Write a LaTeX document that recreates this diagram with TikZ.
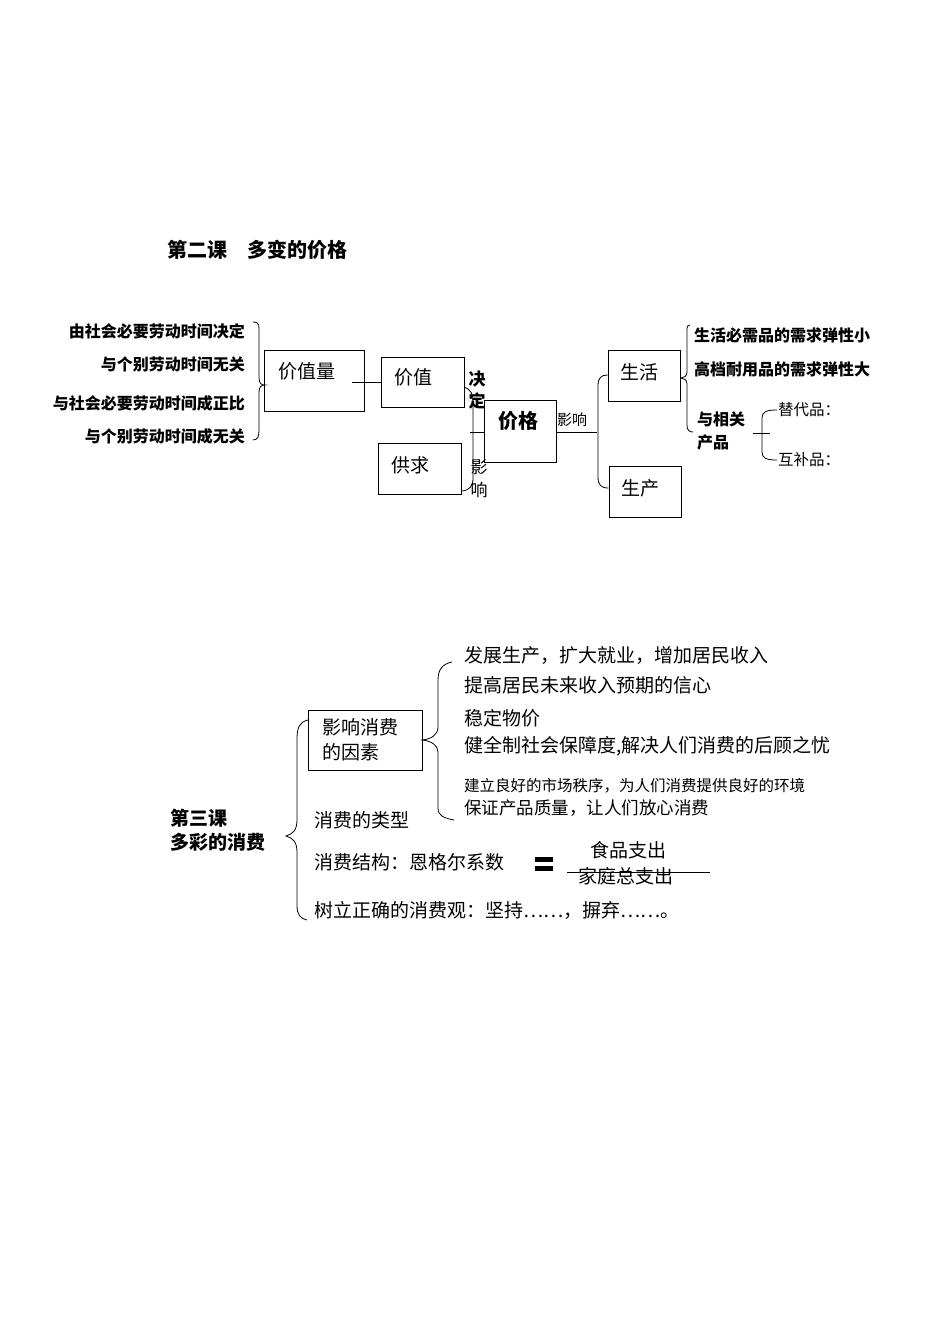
\documentclass[tikz,border=0pt]{standalone}
\usepackage{fontspec}
\setmainfont{Noto Sans CJK SC}
\newfontfamily\cjkb[BoldFont=* Bold]{Noto Sans CJK SC}
\usetikzlibrary{decorations.pathreplacing}
\tikzset{
 bx/.style={draw,line width=0.9pt,inner sep=0pt},
 ln/.style={line width=0.8pt},
 txt/.style={inner sep=0pt,anchor=west,font=\fontsize{19}{21}\selectfont},
 btxt/.style={inner sep=0pt,anchor=west,font=\fontsize{16}{18}\selectfont\bfseries},
 stxt/.style={inner sep=0pt,anchor=west,font=\fontsize{15.5}{17}\selectfont},
}
\begin{document}
\begin{tikzpicture}[x=1pt,y=-1pt]
\useasboundingbox[fill=white] (0,0) rectangle (950,1344);
\node[inner sep=0pt,anchor=west,font=\fontsize{20}{22}\selectfont\bfseries] (t2) at (167,250) {第二课\quad 多变的价格};
% left texts
\node[btxt,anchor=east] (l1) at (245,331) {由社会必要劳动时间决定};
\node[btxt,anchor=east] (l2) at (245,364) {与个别劳动时间无关};
\node[btxt,anchor=east] (l3) at (245,403) {与社会必要劳动时间成正比};
\node[btxt,anchor=east] (l4) at (245,436) {与个别劳动时间成无关};
\draw[ln] (253,322) .. controls (260,322) and (259,326) .. (259,334) -- (259,378) .. controls (259,384) and (262,385) .. (265,385)
  .. controls (262,385) and (259,386) .. (259,392) -- (259,430) .. controls (259,436) and (258,440) .. (253,440);
% boxes
\node[bx,minimum width=100pt,minimum height=61pt] (jzl) at (314,380.5) {};
\node[txt] at (278,371) {价值量};
\node[bx,minimum width=83pt,minimum height=50pt] (jz) at (422.5,382) {};
\node[txt] at (394,377) {价值};
\node[bx,minimum width=83pt,minimum height=51pt] (gq) at (419.5,468.5) {};
\node[txt] at (391,465) {供求};
\node[bx,minimum width=72pt,minimum height=62pt] (jg) at (520,431) {};
\node[inner sep=0pt,font=\fontsize{20}{22}\selectfont\bfseries] at (518,421) {价格};
\coordinate (c1) at (352,382);
\draw[ln] (c1) -- (jz.west|-c1);
\node[inner sep=0pt,font=\fontsize{17}{19}\selectfont\bfseries] (jd1) at (477,379) {决};
\node[inner sep=0pt,font=\fontsize{17}{19}\selectfont\bfseries] (jd2) at (477,401) {定};
\node[inner sep=0pt,font=\fontsize{17}{19}\selectfont] (yx1) at (479,467) {影};
\node[inner sep=0pt,font=\fontsize{17}{19}\selectfont] (yx2) at (479,490) {响};
\draw[ln] (464,387) .. controls (472,390) and (473,395) .. (473,402) -- (473,478) .. controls (473,486) and (470,490) .. (462,491);
\draw[ln] (470,432) -- (jg.west|-0,432);
% right side
\node[inner sep=0pt,anchor=west,font=\fontsize{15}{17}\selectfont] (yx3) at (557,420) {影响};
\draw[ln] (jg.east|-0,432) -- (597,432);
\node[bx,minimum width=72pt,minimum height=51pt] (sh) at (644,375.5) {};
\node[txt] at (620,372) {生活};
\node[bx,minimum width=72pt,minimum height=51pt] (sc) at (645,491.5) {};
\node[txt] at (621,488) {生产};
\draw[ln] (sh.west|-0,375) .. controls (601,375) and (598,378) .. (598,386) -- (598,477) .. controls (598,485) and (601,488) .. (sc.west|-0,488);
\draw[ln] (690,325) .. controls (686,325) and (687,330) .. (687,336) -- (687,372) .. controls (687,376) and (684,378) .. (681,378)
  .. controls (684,378) and (687,380) .. (687,384) -- (687,425) .. controls (687,430) and (689,432) .. (693,432);
\node[btxt] (r1) at (694,335) {生活必需品的需求弹性小};
\node[btxt] (r2) at (694,369) {高档耐用品的需求弹性大};
\node[btxt] (r3) at (697,419) {与相关};
\node[btxt] (r4) at (697,442) {产品};
\draw[ln] (753,433) -- (770,433);
\draw[ln] (777,410) .. controls (766,410) and (762,412) .. (762,418) -- (762,452) .. controls (762,458) and (766,460) .. (777,460);
\node[stxt] (td) at (778,410) {替代品：};
\node[stxt] (hb) at (778,460) {互补品：};
% bottom
\node[inner sep=0pt,anchor=west,font=\fontsize{19}{21}\selectfont\bfseries] (l31) at (170,818) {第三课};
\node[inner sep=0pt,anchor=west,font=\fontsize{19}{21}\selectfont\bfseries] (l32) at (170,842) {多彩的消费};
\draw[ln] (308,720) .. controls (299,722) and (297,728) .. (297,740) -- (297,820) .. controls (297,830) and (293,834) .. (286,836)
  .. controls (293,838) and (297,842) .. (297,852) -- (297,905) .. controls (297,915) and (300,918) .. (307,920);
\node[bx,minimum width=114pt,minimum height=60pt] (ys) at (365,740) {};
\node[txt] at (322,727) {影响消费};
\node[txt] at (322,752) {的因素};
\draw[ln] (452,662) .. controls (442,664) and (438,670) .. (438,680) -- (438,727) .. controls (438,735) and (431,739) .. (ys.east|-0,740)
  .. controls (431,741) and (438,745) .. (438,752) -- (438,808) .. controls (438,816) and (444,818) .. (454,820);
\node[txt] (a1) at (464,655) {发展生产，扩大就业，增加居民收入};
\node[txt] (a2) at (464,685) {提高居民未来收入预期的信心};
\node[txt] (a3) at (464,718) {稳定物价};
\node[txt] (a4) at (464,746) {健全制社会保障度,解决人们消费的后顾之忧};
\node[stxt] (a5) at (464,786) {建立良好的市场秩序，为人们消费提供良好的环境};
\node[txt,font=\fontsize{17.5}{19}\selectfont] (a6) at (464,808) {保证产品质量，让人们放心消费};
\node[txt] (b1) at (314,820) {消费的类型};
\node[txt] (b2) at (314,862) {消费结构：恩格尔系数};
\fill (535,857) rectangle (553,862);
\fill (535,866) rectangle (553,871);
\node[txt] (f1) at (590,850) {食品支出};
\node[txt] (f2) at (578,876) {家庭总支出};
\draw[ln] (567,872) -- (710,872);
\node[txt] (b3) at (314,910) {树立正确的消费观：坚持……，摒弃……。};
\end{tikzpicture}
\end{document}
